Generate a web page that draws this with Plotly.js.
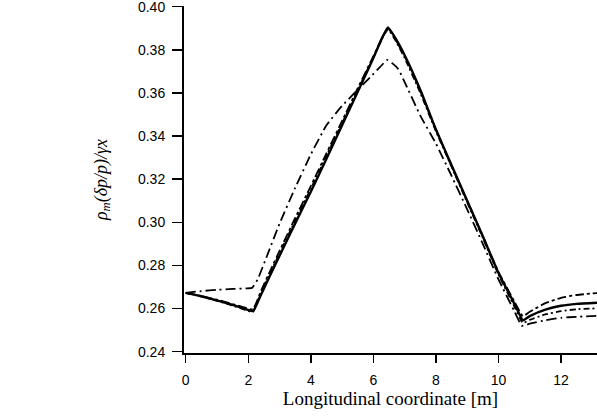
<!DOCTYPE html>
<html>
<head>
<meta charset="utf-8">
<script src="https://cdn.plot.ly/plotly-3.0.1.min.js"></script>
<style>html,body{margin:0;padding:0;background:#fff;}#chart{width:597px;height:416px;}</style>
</head>
<body>
<div id="chart"></div>
<script>
// Longitudinal coordinate [m]
var xMain = [0, 0.5, 1.0, 1.5, 1.9, 2.15, 2.4, 2.7, 3.0, 3.5, 4.0, 4.5, 5.0, 5.5, 6.0, 6.3, 6.47, 6.7, 7.0, 7.5, 8.0, 8.5, 9.0, 9.5, 10.0, 10.5, 10.78, 11.0, 11.5, 12.0, 12.5, 13.15];
var ySolid = [0.2673, 0.2657, 0.2638, 0.2617, 0.2598, 0.2588, 0.2662, 0.2755, 0.2845, 0.2995, 0.3142, 0.3295, 0.3450, 0.3605, 0.3762, 0.3862, 0.3904, 0.3855, 0.3775, 0.3615, 0.3430, 0.3265, 0.3100, 0.2935, 0.2765, 0.2625, 0.2546, 0.2565, 0.2595, 0.2613, 0.2622, 0.2627];
var yLongDash = [0.2673, 0.2658, 0.2641, 0.2621, 0.2604, 0.2596, 0.2680, 0.2775, 0.2868, 0.3020, 0.3168, 0.3320, 0.3470, 0.3622, 0.3770, 0.3860, 0.3898, 0.3850, 0.3770, 0.3610, 0.3430, 0.3262, 0.3098, 0.2935, 0.2770, 0.2635, 0.2565, 0.2585, 0.2625, 0.2650, 0.2663, 0.2672];
var yDashDot = [0.2673, 0.2656, 0.2636, 0.2614, 0.2594, 0.2584, 0.2668, 0.2765, 0.2856, 0.3008, 0.3155, 0.3308, 0.3460, 0.3612, 0.3765, 0.3858, 0.3895, 0.3845, 0.3762, 0.3600, 0.3422, 0.3258, 0.3092, 0.2928, 0.2758, 0.2612, 0.2533, 0.2548, 0.2573, 0.2588, 0.2597, 0.2601];
var xLow = [0, 0.5, 1.0, 1.5, 2.0, 2.12, 2.3, 2.6, 3.0, 3.5, 4.0, 4.5, 5.0, 5.3, 5.6, 5.9, 6.2, 6.44, 6.6, 6.8, 7.0, 7.5, 8.0, 8.5, 9.0, 9.5, 10.0, 10.5, 10.75, 11.0, 11.5, 12.0, 12.5, 13.15];
var yLow = [0.2673, 0.2681, 0.2687, 0.2691, 0.2694, 0.2696, 0.2735, 0.2845, 0.2994, 0.3160, 0.3315, 0.3450, 0.3540, 0.3585, 0.3630, 0.3673, 0.3718, 0.3753, 0.3738, 0.3710, 0.3650, 0.3495, 0.3365, 0.3215, 0.3060, 0.2900, 0.2735, 0.2590, 0.2520, 0.2530, 0.2546, 0.2557, 0.2562, 0.2566];
var xTicks = [0, 2, 4, 6, 8, 10, 12];
var yTicks = [0.24, 0.26, 0.28, 0.30, 0.32, 0.34, 0.36, 0.38, 0.40];

var traces = [
  {x: xMain, y: yLongDash, mode: 'lines', line: {color: '#000', width: 1.8, dash: '9px,3px,3px,3px', shape: 'spline', smoothing: 0.4}},
  {x: xMain, y: yDashDot, mode: 'lines', line: {color: '#000', width: 1.8, dash: '6px,3px,2px,3px', shape: 'spline', smoothing: 0.4}},
  {x: xLow, y: yLow, mode: 'lines', line: {color: '#000', width: 1.8, dash: '10px,4px,2px,4px', shape: 'spline', smoothing: 0.4}},
  {x: xMain, y: ySolid, mode: 'lines', line: {color: '#000', width: 2.4, shape: 'spline', smoothing: 0.4}}
];

var layout = {
  width: 597, height: 416,
  margin: {l: 184, r: 0, t: 6, b: 63},
  paper_bgcolor: '#fff', plot_bgcolor: '#fff',
  showlegend: false,
  font: {family: 'Liberation Sans, Arial, sans-serif', color: '#000'},
  xaxis: {
    range: [-0.055, 13.15], tickvals: xTicks, ticktext: xTicks.map(String),
    ticks: 'outside', ticklen: 8, tickwidth: 1.5, tickcolor: '#000',
    showline: true, linewidth: 2, linecolor: '#000',
    showgrid: false, zeroline: false, ticklabelstandoff: 5,
    tickfont: {size: 14, family: 'Liberation Sans, Arial, sans-serif'},
    title: {text: 'Longitudinal coordinate [m]', font: {size: 19, family: 'Liberation Serif, Times New Roman, serif'}, standoff: 4}
  },
  yaxis: {
    range: [0.2394, 0.4003], tickvals: yTicks, ticktext: yTicks.map(function(v){return v.toFixed(2);}),
    ticks: 'outside', ticklen: 10, tickwidth: 1.5, tickcolor: '#000',
    showline: true, linewidth: 2, linecolor: '#000',
    showgrid: false, zeroline: false, ticklabelstandoff: 4, ticklabeloverflow: 'allow',
    tickfont: {size: 14, family: 'Liberation Sans, Arial, sans-serif'},
    title: {text: '<i>ρ<sub>m</sub>(δp/p)/γx</i>', font: {size: 18, family: 'Liberation Serif, Times New Roman, serif'}, standoff: 26}
  }
};

Plotly.newPlot('chart', traces, layout, {staticPlot: true});
</script>
</body>
</html>
